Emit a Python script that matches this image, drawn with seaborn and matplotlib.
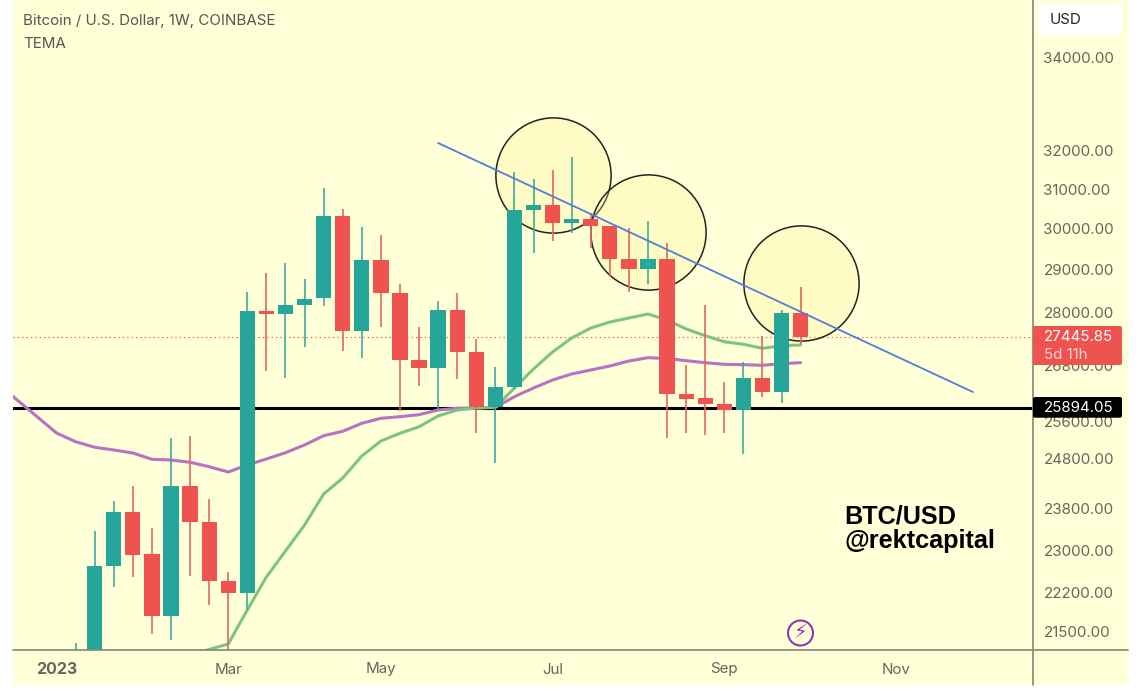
import numpy as np
import seaborn as sns
import matplotlib.pyplot as plt
from matplotlib.lines import Line2D
from matplotlib.patches import Rectangle, FancyBboxPatch, Circle

# weekly candles, one entry per week
opens = [20900, 21100, 22714, 23737, 22937, 21782, 24266, 23552, 22423, 22195,
         28053, 27984, 28179, 28349, 30326, 27599, 29237, 28465, 26936, 26751,
         28070, 27124, 25915, 26344, 30487, 30615, 30154, 30249, 30077, 29268,
         29024, 29268, 26206, 26108, 25986, 25849, 26536, 26249, 27993]
closes = [21100, 22720, 23737, 22930, 21782, 24266, 23552, 22423, 22206, 28053,
          27984, 28186, 28332, 30326, 27599, 29237, 28465, 26936, 26751, 28070,
          27117, 25915, 26344, 30487, 30615, 30154, 30249, 30069, 29268, 29024,
          29268, 26206, 26099, 25986, 25849, 26536, 26249, 27993, 27445.85]
highs = [21300, 23381, 23954, 24260, 23444, 25261, 25291, 23994, 22594, 28481,
         28923, 29171, 28791, 31059, 30505, 30044, 29846, 28674, 27690, 28272,
         28472, 27418, 26779, 31454, 31274, 31513, 31854, 30410, 30080, 30018,
         30213, 29651, 26823, 28186, 26464, 26897, 27486, 28063, 28612]
lows = [20800, 21000, 22320, 22505, 21459, 21356, 22524, 21985, 21170, 21895,
        26693, 26543, 27237, 28163, 27146, 26974, 27683, 25842, 26378, 25885,
        26521, 25356, 24726, 26300, 29407, 29707, 29910, 29529, 28844, 28495,
        28674, 25246, 25369, 25325, 25369, 24902, 26142, 26014, 27298]

# first purple value is four weeks before the first candle
tema_purple_start = -4
tema_purple = [26393, 26050, 25707, 25362, 25174, 25054, 24995, 24930, 24794, 24780,
               24734, 24646, 24540, 24680, 24800, 24936, 25103, 25304, 25399, 25572,
               25679, 25714, 25757, 25857, 25894, 25900, 25915, 26142, 26329, 26500,
               26629, 26714, 26800, 26913, 26988, 26970, 26920, 26875, 26838, 26830,
               26816, 26852, 26875]
tema_green_start = 6
tema_green = [21087, 21186, 21285, 21895, 22505, 23000, 23495, 24100, 24420, 24865,
              25189, 25356, 25498, 25729, 25857, 25900, 25915, 26329, 26736, 27117,
              27434, 27660, 27796, 27887, 27977, 27842, 27638, 27486, 27350, 27291,
              27201, 27260, 27276]

support = 25894.05
last_price = 27445.85
trend_weeks = [19.0, 47.03]
trend_prices = [32172, 26243]
circle_weeks = [25, 30, 38]
circle_prices = [31392, 29939, 28698]

price_ticks = [34000, 32000, 31000, 30000, 29000, 28000, 26800, 25600, 24800,
               23800, 23000, 22200, 21500]
month_weeks = [-1, 8, 16, 25, 34, 43]
month_labels = ['2023', 'Mar', 'May', 'Jul', 'Sep', 'Nov']

# the price axis is uneven, so the scale goes through the pixel rows of its ticks
scale_prices = np.array([20000, 21500, 22200, 23000, 23800, 24800, 25600, 26800,
                         28000, 29000, 30000, 31000, 32000, 34000, 35247], dtype=float)
scale_rows = np.array([715.6, 632, 593, 551, 509, 459, 422, 366, 313, 270, 229, 190,
                       151, 58, 0], dtype=float)


def price_to_row(v):
    return -np.interp(v, scale_prices, scale_rows)


def row_to_price(v):
    return np.interp(-np.asarray(v), scale_rows[::-1], scale_prices[::-1])


W, H = 1140, 694
BG = '#FFFFD8'
TEAL = '#26A69A'
RED = '#EF5350'
GREY = '#66665C'
AXIS = '#85857A'
TXT = 10.9

sns.set_theme(style='white')
plt.rcParams['font.family'] = ['Inter', 'DejaVu Sans']

fig = plt.figure(figsize=(W / 100, H / 100), dpi=100, facecolor='white')


def fx(x):
    return x / W


def fy(y):
    return 1 - y / H


fig.add_artist(Rectangle((fx(13), fy(685)), fx(1128 - 13), 685 / H, transform=fig.transFigure,
                         facecolor=BG, edgecolor='none', zorder=-5))

ax = fig.add_axes([fx(13), fy(650), fx(1033 - 13), 650 / H])
ax.patch.set_alpha(0)
ax.set_yscale('function', functions=(price_to_row, row_to_price))
ax.set_ylim(21177, 35247)
ax.set_xlim(-3.281, 50.18)

weeks = np.arange(len(opens))
opens_a, closes_a = np.array(opens), np.array(closes)
colors = [TEAL if c >= o else RED for o, c in zip(opens, closes)]
wick_colors = ['#3FAA9E' if c >= o else '#E4665F' for o, c in zip(opens, closes)]

ax.axhline(support, color='black', lw=2.2, zorder=1.5)
ax.axhline(last_price, color=RED, lw=0.9, ls=(0, (1, 2.5)), zorder=1.5)

sns.lineplot(x=tema_purple_start + np.arange(len(tema_purple)), y=tema_purple, ax=ax,
             color='#B871C4', linewidth=2.2, sort=False, estimator=None, zorder=2)
sns.lineplot(x=tema_green_start + np.arange(len(tema_green)), y=tema_green, ax=ax,
             color='#7DC47C', linewidth=2.2, sort=False, estimator=None, zorder=2)

sns.scatterplot(x=circle_weeks, y=circle_prices, ax=ax, s=6880, marker='o',
                facecolor=(1.0, 0.95, 0.55, 0.25), edgecolor='#222222', linewidth=1.1,
                zorder=2.5, clip_on=False)

ax.vlines(weeks, lows, highs, colors=wick_colors, lw=1.2, zorder=3)
ax.bar(weeks, np.abs(closes_a - opens_a), bottom=np.minimum(opens_a, closes_a), width=0.8,
       color=colors, linewidth=0, zorder=3.5)

sns.lineplot(x=trend_weeks, y=trend_prices, ax=ax, color='#4F7FDB', linewidth=1.3,
             sort=False, estimator=None, zorder=4)

ax.set_xticks(month_weeks)
ax.set_xticklabels(month_labels)
ax.tick_params(axis='x', length=0, pad=9, labelsize=TXT, labelcolor=GREY)
ax.get_xticklabels()[0].set_fontweight('bold')
ax.get_xticklabels()[0].set_fontsize(11.5)
ax.yaxis.tick_right()
ax.set_yticks(price_ticks)
ax.set_yticklabels([f'{p:.2f}' for p in price_ticks])
ax.minorticks_off()
ax.tick_params(axis='y', length=0, pad=7.5, labelsize=TXT, labelcolor=GREY)
ax.set_xlabel('')
ax.set_ylabel('')
for s in ax.spines.values():
    s.set_visible(False)

# frame lines run past the plot area
fig.add_artist(Line2D([fx(13), fx(1128)], [fy(650), fy(650)], color=AXIS, lw=1.2, zorder=2))
fig.add_artist(Line2D([fx(1033), fx(1033)], [fy(0), fy(685)], color=AXIS, lw=1.2, zorder=2))

# USD box
fig.add_artist(FancyBboxPatch((1040, H - 34), 80, 28, boxstyle='round,pad=2,rounding_size=4',
                              transform=None, facecolor='white', edgecolor='none', zorder=5))
fig.text(fx(1050), fy(20), 'USD', color='#222222', fontsize=TXT, va='center', zorder=6)

# price labels on the axis
fig.add_artist(FancyBboxPatch((1033, H - 365), 89, 39, boxstyle='round,pad=0,rounding_size=2',
                              transform=None, facecolor=RED, edgecolor='none', zorder=5))
fig.text(fx(1044), fy(337), '27445.85', color='white', fontsize=TXT, va='center', zorder=6)
fig.text(fx(1044), fy(355), '5d 11h', color='#FFD5D0', fontsize=TXT, va='center', zorder=6)
fig.add_artist(FancyBboxPatch((1033, H - 417.7), 89, 20.7, boxstyle='round,pad=0,rounding_size=2',
                              transform=None, facecolor='black', edgecolor='none', zorder=5))
fig.text(fx(1044), fy(407.5), '25894.05', color='white', fontsize=TXT, va='center', zorder=6)

# header
fig.text(fx(23), fy(21.5), 'Bitcoin / U.S. Dollar, 1W, COINBASE', color='#555555',
         fontsize=10.85, va='center')
fig.text(fx(23), fy(43.5), 'TEMA', color='#555555', fontsize=10.85, va='center')

# author note
fig.text(fx(844), fy(516), 'BTC/USD', color='black', fontsize=18.2, fontweight='bold',
         family='Liberation Sans', va='center')
fig.text(fx(844), fy(541), '@rektcapital', color='black', fontsize=18.2, fontweight='bold',
         family='Liberation Sans', va='center')

# lightning badge
fig.add_artist(Circle((800.5, H - 633), 12.5, transform=None, facecolor='none',
                      edgecolor='#8E35B5', lw=1.5, zorder=5))
fig.text(fx(800.5), fy(633), '\u26a1', color='#9C27B0', fontsize=14, family='DejaVu Sans',
         ha='center', va='center', zorder=6)

fig.savefig('out.png', dpi=100, facecolor='white')
